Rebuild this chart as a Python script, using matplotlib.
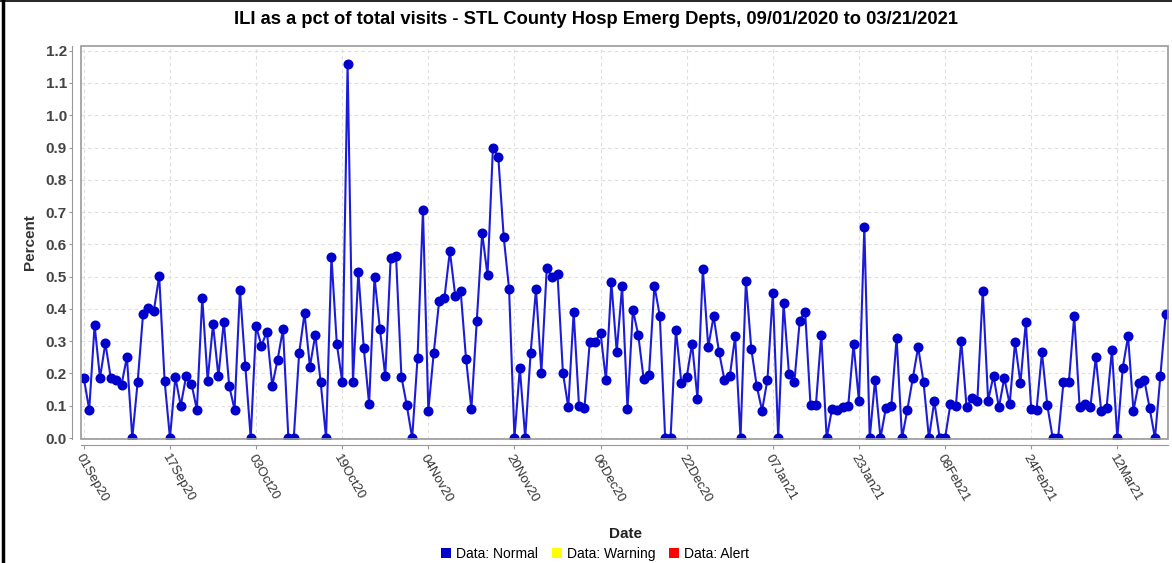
import matplotlib
matplotlib.use("Agg")
import matplotlib.pyplot as plt
import matplotlib.dates as mdates
from matplotlib.patches import Rectangle, Patch
from matplotlib.lines import Line2D
import pandas as pd

plt.rcParams['font.family'] = ['Liberation Sans', 'DejaVu Sans']

start_date = "2020-09-01"
end_date = "2021-03-21"

# ILI percent, one value per day from 09/01/2020 to 03/21/2021
pct = [
    0.185, 0.088, 0.350, 0.186, 0.294, 0.186, 0.179, 0.165, 0.251, 0.0,
    0.174, 0.384, 0.403, 0.394, 0.502, 0.178, 0.0, 0.189, 0.100, 0.191,
    0.168, 0.088, 0.435, 0.178, 0.353, 0.191, 0.361, 0.162, 0.088, 0.459,
    0.224, 0.0, 0.346, 0.286, 0.330, 0.162, 0.243, 0.337, 0.0, 0.0,
    0.263, 0.387, 0.221, 0.320, 0.173, 0.0, 0.562, 0.291, 0.175, 1.159,
    0.175, 0.514, 0.280, 0.105, 0.498, 0.339, 0.191, 0.557, 0.564, 0.190,
    0.101, 0.0, 0.249, 0.707, 0.085, 0.263, 0.423, 0.435, 0.579, 0.441,
    0.457, 0.246, 0.090, 0.364, 0.635, 0.504, 0.900, 0.870, 0.624, 0.462,
    0.0, 0.217, 0.0, 0.263, 0.461, 0.203, 0.526, 0.500, 0.508, 0.203,
    0.095, 0.390, 0.098, 0.093, 0.299, 0.299, 0.325, 0.179, 0.483, 0.267,
    0.470, 0.090, 0.397, 0.320, 0.183, 0.196, 0.472, 0.379, 0.0, 0.0,
    0.335, 0.172, 0.189, 0.292, 0.122, 0.523, 0.282, 0.377, 0.267, 0.181,
    0.191, 0.315, 0.0, 0.488, 0.276, 0.162, 0.085, 0.181, 0.449, 0.0,
    0.418, 0.199, 0.173, 0.364, 0.392, 0.102, 0.101, 0.320, 0.0, 0.090,
    0.087, 0.096, 0.098, 0.291, 0.114, 0.653, 0.0, 0.181, 0.0, 0.093,
    0.098, 0.310, 0.0, 0.088, 0.186, 0.282, 0.173, 0.0, 0.114, 0.0,
    0.0, 0.106, 0.098, 0.302, 0.095, 0.124, 0.116, 0.457, 0.116, 0.193,
    0.095, 0.186, 0.105, 0.296, 0.170, 0.359, 0.091, 0.088, 0.265, 0.101,
    0.0, 0.0, 0.173, 0.173, 0.379, 0.095, 0.106, 0.096, 0.250, 0.085,
    0.093, 0.273, 0.0, 0.217, 0.315, 0.085, 0.172, 0.181, 0.093, 0.0,
    0.193, 0.385,
]

legend_labels = ["Data: Normal", "Data: Warning", "Data: Alert"]
legend_colors = ["#0000cc", "#ffff00", "#ff0000"]

dates = pd.date_range(start_date, end_date, freq="D")

fig = plt.figure(figsize=(11.72, 5.63), dpi=100)
ax = fig.add_axes([80.7 / 1172, 1 - 439 / 563, (1168 - 80.7) / 1172, (439 - 45.7) / 563])

ax.plot(dates, pct, color="#1c1cd8", lw=1.5, marker="o", ms=6.2,
        markerfacecolor="#0000cc", markeredgecolor="#0000cc", zorder=3)

ax.set_xlim(dates[0] - pd.Timedelta(hours=14), dates[-1] + pd.Timedelta(hours=10))
ax.set_ylim(-0.003, 1.2155)
ax.set_yticks([i / 10 for i in range(13)])
ax.yaxis.set_major_formatter(plt.FormatStrFormatter('%.1f'))
ax.set_xticks(dates[::16])
ax.xaxis.set_major_formatter(mdates.DateFormatter('%d%b%y'))

ax.grid(True, color="#dddddd", linestyle=(0, (3, 3)), lw=0.8)
ax.set_axisbelow(True)

for s in ["top", "right"]:
    ax.spines[s].set_visible(False)
ax.spines["left"].set_position(("outward", 6))
ax.spines["bottom"].set_position(("outward", 4.5))
for s in ["left", "bottom"]:
    ax.spines[s].set_color("#999999")
ax.add_patch(Rectangle((0, 0), 1, 1, transform=ax.transAxes, fill=False,
                       edgecolor="#999999", lw=1.2, clip_on=False, zorder=4))

ax.tick_params(axis="y", length=2, color="#999999", labelsize=11,
               labelcolor="#444444", pad=2)
ax.tick_params(axis="x", length=3, color="#999999", labelsize=9.5,
               labelcolor="#333333", pad=2)
for lab in ax.get_yticklabels():
    lab.set_fontweight("bold")
for lab in ax.get_xticklabels():
    lab.set_rotation(-60)
    lab.set_ha("left")
    lab.set_va("top")
    lab.set_rotation_mode("anchor")

ax.set_ylabel("Percent", fontsize=11, fontweight="bold", color="#333333", labelpad=6)
ax.set_xlabel("Date", fontsize=11, fontweight="bold", color="#222222")
ax.xaxis.set_label_coords((626 - 80.7) / (1168 - 80.7), -(527 - 439) / (439 - 45.7))

fig.suptitle("ILI as a pct of total visits - STL County Hosp Emerg Depts, 09/01/2020 to 03/21/2021",
             x=596 / 1172, y=1 - 20 / 563, va="center", fontsize=13.2, fontweight="bold")

handles = [Patch(facecolor=c, edgecolor="none") for c in legend_colors]
fig.legend(handles, legend_labels, loc="center", ncol=3,
           bbox_to_anchor=(595 / 1172, 1 - 554 / 563), frameon=False,
           fontsize=10, handlelength=0.7, handleheight=0.7,
           handletextpad=0.35, columnspacing=1.0)

# black border on left and top of the screenshot
fig.add_artist(Line2D([2.5 / 1172, 2.5 / 1172], [0, 1], transform=fig.transFigure,
                      color="black", lw=2.5))
fig.add_artist(Line2D([0, 1], [1 - 0.8 / 563, 1 - 0.8 / 563], transform=fig.transFigure,
                      color="black", lw=1.2))

fig.savefig("out.png", dpi=100)
